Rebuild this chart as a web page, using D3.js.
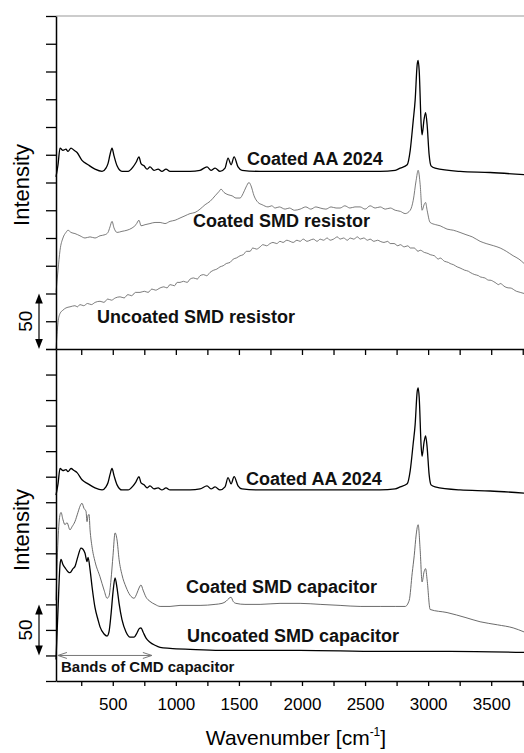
<!DOCTYPE html>
<html>
<head>
<meta charset="utf-8">
<script src="https://cdn.jsdelivr.net/npm/d3@7"></script>
<style>
body{margin:0;background:#fff}
svg{display:block;font-family:"Liberation Sans",Arial,Helvetica,sans-serif}
</style>
</head>
<body>
<div id="chart"></div>
<script>
// ---- data: wavenumber [cm-1] and intensity (arb. units) ----
const aaWave = [50,66,82,105,129,145,169,193,217,256,304,359,415,446,462,478,494,510,534,573,621,661,684,708,724,748,772,795,827,859,890,922,954,1033,1113,1192,1247,1279,1311,1350,1390,1414,1438,1462,1493,1525,1668,1985,2302,2620,2739,2779,2834,2858,2882,2897,2913,2921,2929,2945,2952,2968,2980,2992,3008,3023,3055,3253,3491,3761]
const aaInt  = [155,166,181,179,180,178,181,179,177,170,166,162,160,163,167,175,181,174,165,160,160,164,168,173,167,165,162,164,161,162,160,162,160,160,160,161,164,161,163,160,163,172,166,173,164,161,160,160,160,160,161,163,166,179,206,224,256,260,251,202,193,207,213,202,175,165,163,160,159,157]
// same AA 2024 spectrum is stacked in both panels
const aaOffset = [0, 27]

const resCoatWave = [50,66,82,105,129,145,169,200,240,280,320,359,399,439,462,478,494,510,534,573,613,653,684,708,724,756,795,835,875,914,954,994,1033,1073,1113,1152,1192,1232,1271,1311,1343,1358,1382,1414,1446,1477,1509,1533,1557,1580,1596,1620,1652,1684,1731,1760,1787,1820,1866,1900,1940,1985,2030,2070,2110,2144,2190,2230,2270,2302,2340,2380,2420,2461,2500,2540,2580,2620,2660,2700,2739,2780,2818,2858,2882,2905,2921,2937,2952,2968,2980,2992,3016,3060,3095,3150,3200,3253,3300,3350,3412,3460,3520,3571,3620,3674,3720,3761]
const resCoatInt  = [51,71,89,100,105,107,105,104,102,100,101,100,102,103,105,110,115,109,105,106,107,109,112,116,111,112,113,114,114,113,115,116,118,120,122,123,126,130,133,138,142,144,141,139,138,136,136,140,146,150,147,138,132,130,128,129,127,128,126,127,125,126,128,126,128,127,126,128,127,127,129,127,128,128,126,129,127,128,126,127,125,124,122,125,134,152,161,148,125,130,132,125,114,112,111,108,107,105,103,101,97,95,93,91,88,84,81,77]

const resUncWave = [50,58,66,82,105,129,161,200,220,240,270,300,330,360,399,430,460,490,520,558,590,620,650,680,716,750,780,810,840,875,905,930,954,990,1010,1033,1060,1090,1113,1140,1170,1192,1220,1245,1271,1300,1325,1350,1375,1400,1430,1455,1480,1509,1535,1560,1588,1610,1640,1668,1690,1720,1747,1770,1800,1826,1850,1880,1906,1930,1960,1985,2010,2040,2064,2090,2120,2144,2170,2200,2223,2250,2280,2302,2330,2360,2382,2410,2440,2461,2490,2520,2540,2570,2600,2620,2650,2680,2699,2730,2760,2779,2810,2840,2858,2890,2920,2937,2970,3000,3016,3050,3080,3095,3130,3160,3174,3200,3230,3253,3290,3320,3333,3370,3400,3412,3450,3480,3491,3530,3560,3571,3610,3640,3650,3700,3730,3761]
const resUncInt  = [0,13,24,32,35,37,38,39,38,40,39,41,40,42,43,42,45,44,46,47,46,49,48,51,51,52,51,54,53,55,56,55,58,57,60,60,61,60,63,64,63,66,67,66,69,71,72,74,75,77,78,81,82,84,85,88,88,91,90,92,94,93,95,96,95,97,96,98,97,96,98,97,99,97,98,99,97,99,98,100,98,99,101,99,100,98,100,99,101,99,100,98,99,97,98,97,96,97,95,95,93,94,92,93,91,91,88,89,87,86,85,84,81,82,79,78,77,76,74,73,71,70,69,67,66,65,64,62,62,60,58,59,56,55,55,52,51,50]

const capCoatWave = [50,66,82,90,105,121,137,161,177,200,224,240,256,272,288,296,304,312,320,336,359,399,431,455,470,486,502,518,534,550,573,605,637,669,692,708,724,740,764,795,835,875,954,1033,1192,1311,1366,1398,1422,1438,1454,1477,1548,1668,1826,1985,2144,2302,2461,2620,2739,2818,2850,2874,2890,2905,2921,2937,2952,2968,2980,2992,3016,3150,3300,3412,3550,3674,3761]
const capCoatInt  = [79,138,163,165,158,153,155,148,151,156,165,171,174,169,166,156,162,163,148,131,117,102,89,81,83,99,123,145,138,119,104,92,84,81,86,91,94,89,82,78,75,73,73,74,74,75,76,78,81,82,78,76,75,75,76,76,75,74,73,73,73,73,79,106,123,143,153,128,97,107,110,99,70,67,62,58,55,52,48]

const capUncWave = [50,66,82,90,105,121,145,161,185,200,224,248,264,280,296,304,320,336,359,383,399,431,455,470,486,502,518,534,550,573,605,637,669,692,708,724,740,764,795,835,875,954,1113,1350,1985,2620,3174,3761]
const capUncInt  = [21,70,114,119,114,111,107,106,110,112,122,130,129,125,117,121,109,92,72,60,53,46,44,48,65,87,101,91,76,60,48,43,43,47,51,52,48,42,38,35,33,32,31,30,30,29,29,28]

const xTicks = d3.range(250, 3751, 250)
const yTicksTop = d3.range(0, 301, 25)
const yTicksBot = d3.range(0, 326, 25)

// series labels: [text, wavenumber, intensity]
const labelsTop = [["Coated AA 2024",1565,166],["Coated SMD resistor",1136,110],["Uncoated SMD resistor",375,23]]
const labelsBot = [["Coated AA 2024",1557,192],["Coated SMD capacitor",1081,86],["Uncoated SMD capacitor",1089,38]]

// ---- layout ----
const width = 524, height = 753
const left = 56, right = 524
const topY = 16, midY = 349, botY = 681

const svg = d3.select('#chart').append('svg')
  .attr('width', width).attr('height', height)
  .attr('viewBox', `0 0 ${width} ${height}`)

const x = d3.scaleLinear().domain([50, 3760]).range([left, right])
const yTop = d3.scaleLinear().domain([0, 300]).range([midY, topY])
const yBot = d3.scaleLinear().domain([0, 325]).range([botY, midY])

const zip = (w, v, off) => w.map((d, i) => [d, v[i] + (off || 0)])

const drawLine = (y, data, color, w) => {
  const line = d3.line().x(d => x(d[0])).y(d => y(d[1])).curve(d3.curveMonotoneX)
  svg.append('path').datum(data)
    .attr('fill', 'none').attr('stroke', color).attr('stroke-width', w)
    .attr('stroke-linejoin', 'round')
    .attr('d', line)
}

// top panel
drawLine(yTop, zip(resUncWave, resUncInt), '#5a5a5a', 0.8)
drawLine(yTop, zip(resCoatWave, resCoatInt), '#5a5a5a', 0.8)
drawLine(yTop, zip(aaWave, aaInt, aaOffset[0]), '#000', 1.3)
// bottom panel
drawLine(yBot, zip(capCoatWave, capCoatInt), '#5a5a5a', 0.9)
drawLine(yBot, zip(capUncWave, capUncInt), '#000', 1.3)
drawLine(yBot, zip(aaWave, aaInt, aaOffset[1]), '#000', 1.3)

// frame line on top
svg.append('line').attr('x1', left).attr('x2', right).attr('y1', topY).attr('y2', topY)
  .attr('stroke', '#999').attr('stroke-width', 1)

// axes
const styleAxis = g => {
  g.selectAll('path.domain').attr('stroke', '#000').attr('stroke-width', 1.5)
  g.selectAll('.tick line').attr('stroke', '#000').attr('stroke-width', 1.3)
  g.selectAll('.tick text').attr('fill', '#000').attr('font-size', 17)
    .attr('font-family', '"Liberation Sans",Arial,sans-serif')
}

svg.append('g').attr('transform', `translate(0,${botY})`)
  .call(d3.axisBottom(x).tickValues(xTicks).tickSize(5).tickSizeOuter(0).tickPadding(12)
    .tickFormat(d => d % 500 === 0 ? d : ''))
  .call(styleAxis)

svg.append('g').attr('transform', `translate(0,${midY})`)
  .call(d3.axisBottom(x).tickValues(xTicks).tickSize(6).tickSizeOuter(0).tickFormat(''))
  .call(styleAxis)

svg.append('g').attr('transform', `translate(${left},0)`)
  .call(d3.axisLeft(yTop).tickValues(yTicksTop).tickSize(10).tickSizeOuter(0).tickFormat(''))
  .call(styleAxis)

svg.append('g').attr('transform', `translate(${left},0)`)
  .call(d3.axisLeft(yBot).tickValues(yTicksBot).tickSize(10).tickSizeOuter(0).tickFormat(''))
  .call(styleAxis)

// axis titles
const xTitle = svg.append('text')
  .attr('x', (left + right) / 2 + 6).attr('y', 745)
  .attr('text-anchor', 'middle').attr('font-size', 21).attr('fill', '#000')
xTitle.append('tspan').text('Wavenumber [cm')
xTitle.append('tspan').attr('font-size', 12).attr('dy', -9).text('-1')
xTitle.append('tspan').attr('dy', 9).text(']')

;[[yTop, 185], [yBot, 530]].forEach(([y, cy]) => {
  svg.append('text').text('Intensity')
    .attr('transform', `translate(29,${cy}) rotate(-90)`)
    .attr('text-anchor', 'middle').attr('font-size', 22).attr('fill', '#000')
})

// series labels
const drawLabels = (y, labels) => {
  labels.forEach(([t, w, v]) => {
    svg.append('text').text(t)
      .attr('x', x(w)).attr('y', y(v))
      .attr('font-size', 18).attr('font-weight', 'bold').attr('fill', '#111')
  })
}
drawLabels(yTop, labelsTop)
drawLabels(yBot, labelsBot)

// "50" scale arrows
const scaleBar = (y, v0, v1) => {
  const xa = 39, ya = y(v1), yb = y(v0), hl = 10, hw = 3.8
  svg.append('line').attr('x1', xa).attr('x2', xa).attr('y1', ya + 4).attr('y2', yb - 4)
    .attr('stroke', '#000').attr('stroke-width', 1.2)
  svg.append('path').attr('fill', '#000')
    .attr('d', `M${xa},${ya}L${xa - hw},${ya + hl}L${xa + hw},${ya + hl}Z`)
  svg.append('path').attr('fill', '#000')
    .attr('d', `M${xa},${yb}L${xa - hw},${yb - hl}L${xa + hw},${yb - hl}Z`)
  svg.append('text').text('50')
    .attr('transform', `translate(32,${(ya + yb) / 2}) rotate(-90)`)
    .attr('text-anchor', 'middle').attr('font-size', 19).attr('fill', '#000')
}
scaleBar(yTop, 0, 50)
scaleBar(yBot, 25, 75)

// bands arrow in the bottom panel
const bandY = yBot(25), bx0 = x(65), bx1 = x(810)
svg.append('line').attr('x1', bx0).attr('x2', bx1).attr('y1', bandY).attr('y2', bandY)
  .attr('stroke', '#777').attr('stroke-width', 1)
svg.append('path').attr('fill', 'none').attr('stroke', '#777').attr('stroke-width', 1)
  .attr('d', `M${bx0 + 9},${bandY - 3}L${bx0},${bandY}L${bx0 + 9},${bandY + 3}M${bx1 - 9},${bandY - 3}L${bx1},${bandY}L${bx1 - 9},${bandY + 3}`)
svg.append('text').text('Bands of CMD capacitor')
  .attr('x', x(90)).attr('y', yBot(9))
  .attr('font-size', 15).attr('font-weight', 'bold').attr('fill', '#111')
</script>
</body>
</html>
